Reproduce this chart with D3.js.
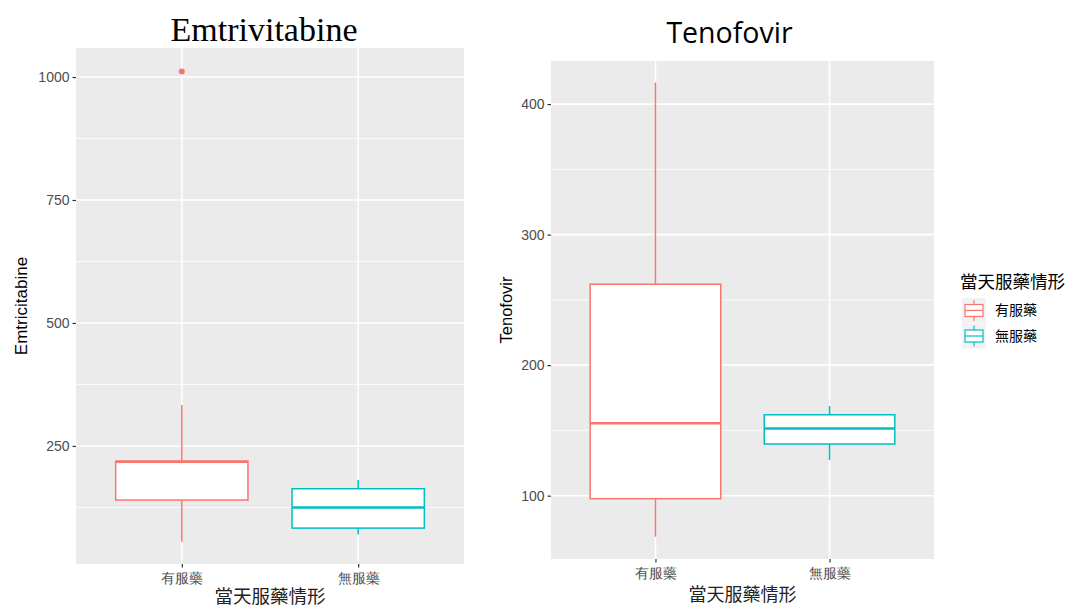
<!DOCTYPE html>
<html>
<head>
<meta charset="utf-8">
<script src="https://cdn.jsdelivr.net/npm/d3@7"></script>
<style>
  body { margin: 0; background: #fff; }
  svg { display: block; }
  .tick text { font-family: "Liberation Sans", Arial, sans-serif; fill: #4d4d4d; }
</style>
</head>
<body>
<svg id="chart" width="1072" height="609"></svg>
<script>
// categories and box statistics
const groups = ['有服藥', '無服藥'];
const colors = ['#F8766D', '#00BFC4'];

// [lower whisker, Q1, median, Q3, upper whisker]
const emtriStats = [[55, 140, 218, 219, 333], [70, 83, 125, 163, 181]];
const emtriOutliers = [[1011], []];
const emtriTicks = [250, 500, 750, 1000];
const emtriMinor = [125, 375, 625, 875];

const tenoStats = [[68.6, 97.7, 155.5, 262, 416.5], [127.4, 139.6, 151.4, 162, 168.7]];
const tenoOutliers = [[], []];
const tenoTicks = [100, 200, 300, 400];
const tenoMinor = [150, 250, 350];

const svg = d3.select('#chart');

function panel(opt) {
  const g = svg.append('g');
  const x = d3.scalePoint().domain(groups).range([opt.x0, opt.x1]).padding(0.6);
  const step = x.step();
  const y = d3.scaleLinear().domain(opt.domain).range([opt.y1, opt.y0]);

  // panel background
  g.append('rect')
    .attr('x', opt.x0).attr('y', opt.y0)
    .attr('width', opt.x1 - opt.x0).attr('height', opt.y1 - opt.y0)
    .attr('fill', '#EBEBEB');

  // minor grid
  g.selectAll('.minor').data(opt.minor).join('line')
    .attr('x1', opt.x0).attr('x2', opt.x1)
    .attr('y1', d => y(d)).attr('y2', d => y(d))
    .attr('stroke', '#fff').attr('stroke-width', 0.8);
  // major grid
  g.selectAll('.major').data(opt.ticks).join('line')
    .attr('x1', opt.x0).attr('x2', opt.x1)
    .attr('y1', d => y(d)).attr('y2', d => y(d))
    .attr('stroke', '#fff').attr('stroke-width', 1.6);
  g.selectAll('.vmajor').data(groups).join('line')
    .attr('x1', d => x(d)).attr('x2', d => x(d))
    .attr('y1', opt.y0).attr('y2', opt.y1)
    .attr('stroke', '#fff').attr('stroke-width', 1.6);

  // boxes
  const bw = step * 0.75;
  const boxes = g.selectAll('.box').data(opt.stats).join('g');
  boxes.append('line')
    .attr('x1', (d, i) => x(groups[i])).attr('x2', (d, i) => x(groups[i]))
    .attr('y1', d => y(d[3])).attr('y2', d => y(d[4]))
    .attr('stroke', (d, i) => colors[i]).attr('stroke-width', 1.5);
  boxes.append('line')
    .attr('x1', (d, i) => x(groups[i])).attr('x2', (d, i) => x(groups[i]))
    .attr('y1', d => y(d[0])).attr('y2', d => y(d[1]))
    .attr('stroke', (d, i) => colors[i]).attr('stroke-width', 1.5);
  boxes.append('rect')
    .attr('x', (d, i) => x(groups[i]) - bw / 2)
    .attr('width', bw)
    .attr('y', d => y(d[3]))
    .attr('height', d => y(d[1]) - y(d[3]))
    .attr('fill', '#fff')
    .attr('stroke', (d, i) => colors[i]).attr('stroke-width', 1.5);
  boxes.append('line')
    .attr('x1', (d, i) => x(groups[i]) - bw / 2).attr('x2', (d, i) => x(groups[i]) + bw / 2)
    .attr('y1', d => y(d[2])).attr('y2', d => y(d[2]))
    .attr('stroke', (d, i) => colors[i]).attr('stroke-width', 2.5);

  // outliers
  opt.outliers.forEach((arr, i) => {
    g.selectAll(null).data(arr).join('circle')
      .attr('cx', x(groups[i])).attr('cy', d => y(d)).attr('r', 3)
      .attr('fill', colors[i]);
  });

  // axes
  const yAxis = d3.axisLeft(y).tickValues(opt.ticks).tickFormat(d3.format('d')).tickSize(3.5).tickPadding(3);
  g.append('g').attr('transform', `translate(${opt.x0},0)`).call(yAxis)
    .call(a => a.select('.domain').remove())
    .call(a => a.selectAll('.tick line').attr('stroke', '#333').attr('stroke-width', 1.2))
    .call(a => a.selectAll('.tick text').attr('font-size', 14));
  const xAxis = d3.axisBottom(x).tickSize(3.5).tickPadding(6);
  g.append('g').attr('transform', `translate(0,${opt.y1})`).call(xAxis)
    .call(a => a.select('.domain').remove())
    .call(a => a.selectAll('.tick line').attr('stroke', '#333').attr('stroke-width', 1.2))
    .call(a => a.selectAll('.tick text')
      .attr('font-family', '"Noto Sans CJK TC", sans-serif')
      .attr('font-size', 14).attr('fill', '#4d4d4d'));

  // titles
  g.append('text')
    .attr('x', opt.titleX).attr('y', opt.titleY)
    .attr('text-anchor', 'middle')
    .attr('font-family', opt.titleFont).attr('font-size', opt.titleSize)
    .attr('fill', '#000')
    .text(opt.title);
  g.append('text')
    .attr('transform', `translate(${opt.ylabX},${(opt.y0 + opt.y1) / 2}) rotate(-90)`)
    .attr('text-anchor', 'middle')
    .attr('font-family', '"Liberation Sans", Arial, sans-serif').attr('font-size', opt.ylabSize)
    .text(opt.ylab);
  g.append('text')
    .attr('x', (opt.x0 + opt.x1) / 2).attr('y', opt.xlabY)
    .attr('text-anchor', 'middle')
    .attr('font-family', '"Noto Sans CJK TC", sans-serif').attr('font-size', opt.xlabSize)
    .attr('fill', '#222')
    .text('當天服藥情形');
}

panel({
  x0: 76, x1: 464, y0: 48, y1: 564,
  domain: [10, 1059],
  stats: emtriStats, outliers: emtriOutliers,
  ticks: emtriTicks, minor: emtriMinor,
  title: 'Emtrivitabine', titleFont: '"Liberation Serif", "Times New Roman", serif', titleSize: 34, titleX: 264, titleY: 41,
  ylab: 'Emtricitabine', ylabX: 27, ylabSize: 17, xlabY: 603, xlabSize: 18.5
});

panel({
  x0: 551, x1: 934, y0: 61, y1: 559,
  domain: [51.5, 433],
  stats: tenoStats, outliers: tenoOutliers,
  ticks: tenoTicks, minor: tenoMinor,
  title: 'Tenofovir', titleFont: '"Open Sans", "Noto Sans", sans-serif', titleSize: 28.5, titleX: 729.5, titleY: 43,
  ylab: 'Tenofovir', ylabX: 512, ylabSize: 16.5, xlabY: 601, xlabSize: 18
});

// legend
const leg = svg.append('g').attr('transform', 'translate(962,0)');
leg.append('text')
  .attr('x', -2).attr('y', 288)
  .attr('font-family', '"Noto Sans CJK TC", sans-serif').attr('font-size', 17.5)
  .text('當天服藥情形');
const keys = leg.selectAll('.key').data(groups).join('g')
  .attr('transform', (d, i) => `translate(0,${298 + i * 25.5})`);
keys.append('rect').attr('width', 24).attr('height', 25).attr('fill', '#F2F2F2');
keys.append('line').attr('x1', 12).attr('x2', 12).attr('y1', 2).attr('y2', 23)
  .attr('stroke', (d, i) => colors[i]).attr('stroke-width', 1.2);
keys.append('rect').attr('x', 3).attr('y', 6.5).attr('width', 18).attr('height', 12)
  .attr('fill', '#fff').attr('stroke', (d, i) => colors[i]).attr('stroke-width', 1.2);
keys.append('line').attr('x1', 3).attr('x2', 21).attr('y1', 12.5).attr('y2', 12.5)
  .attr('stroke', (d, i) => colors[i]).attr('stroke-width', 1.2);
keys.append('text')
  .attr('x', 33).attr('y', 12.5).attr('dy', '0.35em')
  .attr('font-family', '"Noto Sans CJK TC", sans-serif').attr('font-size', 14)
  .text(d => d);
</script>
</body>
</html>
